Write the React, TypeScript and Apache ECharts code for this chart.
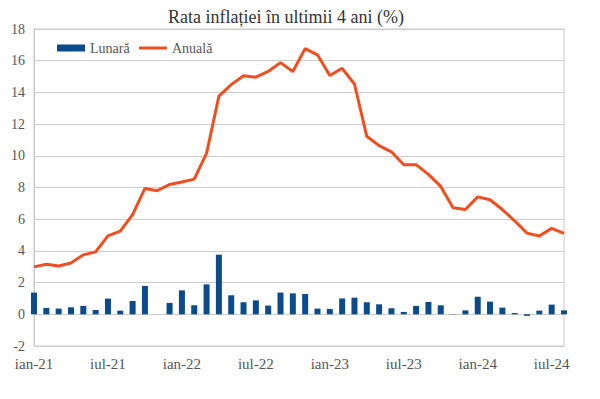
import React, { useEffect, useRef } from "react";
import * as echarts from "echarts";

const months = [
  "ian-21","feb-21","mar-21","apr-21","mai-21","iun-21","iul-21","aug-21","sep-21","oct-21","noi-21","dec-21",
  "ian-22","feb-22","mar-22","apr-22","mai-22","iun-22","iul-22","aug-22","sep-22","oct-22","noi-22","dec-22",
  "ian-23","feb-23","mar-23","apr-23","mai-23","iun-23","iul-23","aug-23","sep-23","oct-23","noi-23","dec-23",
  "ian-24","feb-24","mar-24","apr-24","mai-24","iun-24","iul-24","aug-24",
];

const lunara = [
  1.37, 0.4, 0.36, 0.44, 0.53, 0.27, 0.99, 0.23, 0.84, 1.79, 0.0, 0.72,
  1.51, 0.57, 1.89, 3.76, 1.2, 0.76, 0.88, 0.55, 1.37, 1.32, 1.28, 0.36,
  0.34, 1.0, 1.05, 0.76, 0.63, 0.38, 0.15, 0.53, 0.78, 0.57, 0.02, 0.25,
  1.11, 0.8, 0.42, 0.08, -0.1, 0.23, 0.61, 0.25,
];

const anuala = [
  2.99, 3.16, 3.05, 3.24, 3.75, 3.94, 4.95, 5.25, 6.29, 7.94, 7.8, 8.19,
  8.35, 8.53, 10.15, 13.76, 14.49, 15.05, 14.96, 15.32, 15.88, 15.32, 16.76, 16.37,
  15.07, 15.52, 14.53, 11.23, 10.64, 10.25, 9.43, 9.44, 8.83, 8.07, 6.72, 6.61,
  7.41, 7.23, 6.61, 5.9, 5.12, 4.94, 5.42, 5.1,
];

const FONT = "'Liberation Serif', 'DejaVu Serif', serif";
const BLUE = "#0b4a8b";
const ORANGE = "#f04e1f";

export default function App() {
  const ref = useRef<HTMLDivElement>(null);
  useEffect(() => {
    document.body.style.margin = "0";
    const chart = echarts.init(ref.current!, null, { renderer: "svg" });
    const legendText = { fontFamily: FONT, fontSize: 14, color: "#555" };
    chart.setOption({
      animation: false,
      backgroundColor: "#ffffff",
      title: {
        text: "Rata inflației în ultimii 4 ani (%)",
        left: 163,
        top: 3,
        textStyle: { fontFamily: FONT, fontSize: 18, fontWeight: "normal", color: "#333" },
      },
      legend: [
        {
          left: 52,
          top: 36,
          itemWidth: 28,
          itemHeight: 7,
          textStyle: legendText,
          data: [{ name: "Lunară", icon: "rect" }],
        },
        {
          left: 134,
          top: 36,
          itemWidth: 28,
          itemHeight: 3,
          textStyle: legendText,
          data: [{ name: "Anuală", icon: "rect" }],
        },
      ],
      grid: {
        left: 34,
        right: 36,
        top: 29,
        bottom: 53,
        show: true,
        borderColor: "#c8c8c8",
        borderWidth: 1,
      },
      xAxis: {
        type: "category",
        data: months,
        boundaryGap: false,
        axisLine: { show: false, onZero: false },
        axisTick: { show: false },
        axisLabel: {
          interval: 5,
          fontFamily: FONT,
          fontSize: 15,
          color: "#555",
          margin: 10,
        },
      },
      yAxis: {
        type: "value",
        min: -2,
        max: 18,
        interval: 2,
        axisLine: { show: true, lineStyle: { color: "#c8c8c8" } },
        axisTick: { show: false },
        splitLine: { lineStyle: { color: "#cccccc" } },
        axisLabel: { fontFamily: FONT, fontSize: 14, color: "#555", margin: 9 },
      },
      series: [
        {
          name: "Lunară",
          type: "bar",
          data: lunara,
          barWidth: 6,
          itemStyle: { color: BLUE },
        },
        {
          name: "Anuală",
          type: "line",
          data: anuala,
          symbol: "none",
          lineStyle: { color: ORANGE, width: 3 },
          itemStyle: { color: ORANGE },
        },
      ],
    });
    return () => chart.dispose();
  }, []);
  return <div ref={ref} style={{ width: 600, height: 399 }} />;
}
